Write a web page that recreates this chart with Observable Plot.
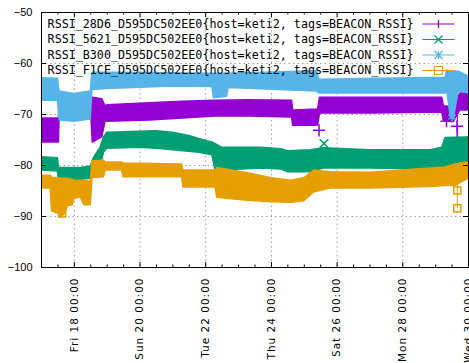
<!DOCTYPE html>
<html><head><meta charset="utf-8">
<script src="https://cdn.jsdelivr.net/npm/d3@7"></script>
<script src="https://cdn.jsdelivr.net/npm/@observablehq/plot@0.6"></script>
<style>
body{margin:0;background:#fff;}
#chart svg{display:block;background:#fff;}
g[aria-label="x-axis tick label"] text{letter-spacing:1px;}
</style></head><body><div id="chart"></div>
<script>
// Series (legend order = drawing order)
const seriesNames = [
  "RSSI_28D6_D595DC502EE0{host=keti2, tags=BEACON_RSSI}",
  "RSSI_5621_D595DC502EE0{host=keti2, tags=BEACON_RSSI}",
  "RSSI_B300_D595DC502EE0{host=keti2, tags=BEACON_RSSI}",
  "RSSI_F1CE_D595DC502EE0{host=keti2, tags=BEACON_RSSI}"
];
const seriesColors = ["#9400d3", "#009e73", "#56b4e9", "#e69f00"];
const seriesSymbols = ["plus", "times", "asterisk", "square"];

// Time in days after Thu 17 00:00; band = lower / upper envelope of the noisy readings
const purpleT  = [0, 0.53, 0.55, 1.52, 1.56, 1.85, 1.95, 2.0, 3.3, 4.3, 5.3, 6.3, 7.63, 7.66, 8.42, 8.48, 10.0, 12.2, 12.25, 12.55, 12.75, 13.0];
const purpleLo = [-75.5, -75.5, -70.5, -70.5, -75.5, -74.5, -71.4, -71.4, -71.2, -70.8, -70.4, -70.4, -70.6, -72.2, -72.2, -69.8, -69.8, -69.6, -71.2, -71.5, -69.2, -69.2];
const purpleHi = [-70.8, -70.8, -67.5, -67.5, -66.7, -67.0, -68.4, -68.2, -67.8, -67.5, -67.3, -67.2, -67.3, -69.2, -69.0, -66.7, -66.7, -66.7, -68.4, -68.6, -65.9, -65.9];

const greenT  = [0, 0.5, 0.53, 1.2, 1.5, 1.6, 1.8, 1.9, 2.0, 3.0, 3.5, 4.0, 4.5, 4.8, 5.2, 5.3, 5.5, 6.7, 7.3, 7.5, 8.2, 8.6, 10.0, 11.85, 12.2, 12.3, 13.0];
const greenLo = [-81.0, -81.2, -82.8, -82.8, -82.6, -81.5, -80.4, -77.5, -76.7, -76.5, -76.7, -77.0, -77.3, -77.5, -78.0, -81.0, -81.0, -80.6, -80.8, -81.3, -81.3, -80.6, -80.6, -80.8, -80.6, -80.4, -79.8];
const greenHi = [-78.4, -78.6, -80.5, -80.5, -80.2, -78.5, -76.5, -74.5, -73.6, -73.4, -73.3, -73.6, -74.2, -74.8, -75.5, -75.8, -76.5, -76.5, -76.8, -77.2, -77.0, -76.6, -77.0, -77.0, -76.5, -74.6, -74.5];

const blueT  = [0, 0.5, 0.55, 1.0, 1.5, 1.55, 2.0, 4.0, 5.2, 5.25, 5.65, 5.7, 8.4, 8.45, 12.3, 12.35, 12.45, 12.55, 12.7, 13.0];
const blueLo = [-67.3, -67.3, -71.2, -71.4, -71.0, -65.2, -65.0, -64.5, -64.6, -66.8, -66.5, -64.8, -65.5, -65.9, -65.9, -65.3, -70.0, -71.0, -65.5, -65.9];
const blueHi = [-62.9, -63.0, -65.5, -66.0, -65.5, -61.8, -61.8, -61.9, -62.0, -62.0, -62.0, -62.0, -61.5, -63.2, -62.8, -61.4, -61.5, -61.5, -61.6, -62.5];

const orangeT  = [0, 0.28, 0.32, 0.55, 0.6, 0.72, 0.8, 0.95, 1.0, 1.2, 1.3, 1.5, 1.55, 1.9, 1.95, 2.45, 2.5, 4.28, 4.32, 5.3, 5.35, 5.8, 6.3, 7.0, 7.6, 8.0, 8.3, 8.8, 10.0, 11.85, 12.3, 12.6, 13.0];
const orangeLo = [-84.5, -84.5, -89.0, -89.5, -90.2, -89.5, -88.0, -87.8, -86.5, -86.3, -87.8, -87.8, -82.5, -82.3, -81.0, -81.0, -82.3, -82.3, -84.3, -84.3, -86.3, -86.6, -86.9, -87.2, -87.3, -87.0, -85.3, -84.5, -84.5, -84.2, -84.0, -84.0, -82.6];
const orangeHi = [-82.0, -82.0, -82.4, -82.5, -82.6, -82.6, -82.6, -82.8, -83.0, -83.0, -83.0, -83.2, -79.2, -79.0, -79.4, -79.4, -79.6, -79.8, -81.0, -81.0, -80.5, -81.0, -81.5, -82.5, -83.0, -82.5, -81.0, -81.3, -81.4, -80.6, -80.4, -79.8, -79.4];

// Isolated readings [day, value] and spikes [day, from, to]
const purpleOut = [[8.45, -73.1], [12.33, -71.3], [12.65, -72.3], [12.66, -74.6]];
const greenOut  = [[8.6, -75.7]];
const blueOut   = [[12.5, -70.5]];
const orangeOut = [[0.63, -89.4], [12.66, -84.9], [12.66, -88.4]];
const purpleSpikes = [[12.66, -70.0, -74.6]];
const orangeSpikes = [[12.66, -83.0, -88.4]];

const xTickDays = [1, 3, 5, 7, 9, 11, 13];
const yTicks = [-100, -90, -80, -70, -60, -50];

const T0 = Date.UTC(2016, 10, 17);
const day = d => new Date(T0 + d * 864e5);
const band = (T, lo, hi) => T.map((t, i) => ({t: day(t), lo: lo[i], hi: hi[i]}));
const bands = [band(purpleT, purpleLo, purpleHi), band(greenT, greenLo, greenHi), band(blueT, blueLo, blueHi), band(orangeT, orangeLo, orangeHi)];
const outs = [purpleOut, greenOut, blueOut, orangeOut];
const spikes = [purpleSpikes, [], [], orangeSpikes];
const minorDays = d3.range(0, 13.01, 0.5).filter(d => !xTickDays.includes(d));

const W = 469, H = 363, mL = 41, mR = 1, mT = 12, mB = 96;
const pw = W - mL - mR, ph = H - mT - mB;
const fmt = d3.utcFormat("%a %d %H:%M");

function legendSymbol(kind) {
  return {draw(ctx) {
    ctx.moveTo(-16, 0); ctx.lineTo(16, 0);
    const s = 4;
    if (kind === "plus" || kind === "asterisk") { ctx.moveTo(0, -s); ctx.lineTo(0, s); }
    if (kind === "times" || kind === "asterisk") { ctx.moveTo(-s, -s); ctx.lineTo(s, s); ctx.moveTo(-s, s); ctx.lineTo(s, -s); }
    if (kind === "square") { ctx.moveTo(-s, -s); ctx.lineTo(s, -s); ctx.lineTo(s, s); ctx.lineTo(-s, s); ctx.closePath(); }
  }};
}

const marks = [
  Plot.ruleX(xTickDays.map(day), {stroke: "#a0a0a0", strokeDasharray: "1.5,3"}),
  Plot.ruleY(yTicks, {stroke: "#a0a0a0", strokeDasharray: "1.5,3"}),
];
bands.forEach((b, i) => {
  marks.push(Plot.areaY(b, {x: "t", y1: "lo", y2: "hi", fill: seriesColors[i], stroke: seriesColors[i], strokeWidth: 1.5, strokeLinejoin: "round", clip: true}));
  marks.push(Plot.ruleX(spikes[i], {x: d => day(d[0]), y1: d => d[1], y2: d => d[2], stroke: seriesColors[i], clip: true}));
  marks.push(Plot.dot(outs[i], {x: d => day(d[0]), y: d => d[1], symbol: seriesSymbols[i], r: 4, stroke: seriesColors[i], fill: "none", clip: true}));
});
seriesNames.forEach((name, i) => {
  const dy = 11.5 + i * 15.5;
  marks.push(Plot.text([name], {text: d => d, frameAnchor: "top-right", textAnchor: "end", lineAnchor: "middle", dx: -55, dy, fontFamily: "DejaVu Sans Mono", fontSize: 11.7, fill: "#000"}));
  marks.push(Plot.dot([name], {frameAnchor: "top-right", dx: -30, dy, symbol: legendSymbol(seriesSymbols[i]), r: 4, stroke: seriesColors[i], fill: "none", strokeWidth: 1.2}));
});
marks.push(
  Plot.frame({stroke: "#000"}),
  Plot.tickY(yTicks, {y: d => d, insetRight: pw - 5, stroke: "#000"}),
  Plot.tickY(yTicks, {y: d => d, insetLeft: pw - 5, stroke: "#000"}),
  Plot.tickX(xTickDays.map(day), {x: d => d, insetTop: ph - 5, stroke: "#000"}),
  Plot.tickX(xTickDays.map(day), {x: d => d, insetBottom: ph - 5, stroke: "#000"}),
  Plot.tickX(minorDays.map(day), {x: d => d, insetTop: ph - 2.5, stroke: "#000"}),
  Plot.tickX(minorDays.map(day), {x: d => d, insetBottom: ph - 2.5, stroke: "#000"}),
  Plot.axisY(yTicks, {tickSize: 0, tickPadding: 9, fontFamily: "Liberation Sans, Arial, sans-serif", fontSize: 11, label: null}),
  Plot.axisX(xTickDays.map(day), {tickSize: 0, tickPadding: 10, tickRotate: -90, tickFormat: fmt, fontFamily: "DejaVu Sans, sans-serif", fontSize: 10.5, label: null})
);

const chart = Plot.plot({
  width: W, height: H,
  marginLeft: mL, marginRight: mR, marginTop: mT, marginBottom: mB,
  x: {type: "utc", domain: [day(0), day(13)]},
  y: {domain: [-100, -50]},
  style: {background: "#fff", color: "#000", overflow: "visible"},
  marks
});
document.getElementById("chart").appendChild(chart);
</script></body></html>
